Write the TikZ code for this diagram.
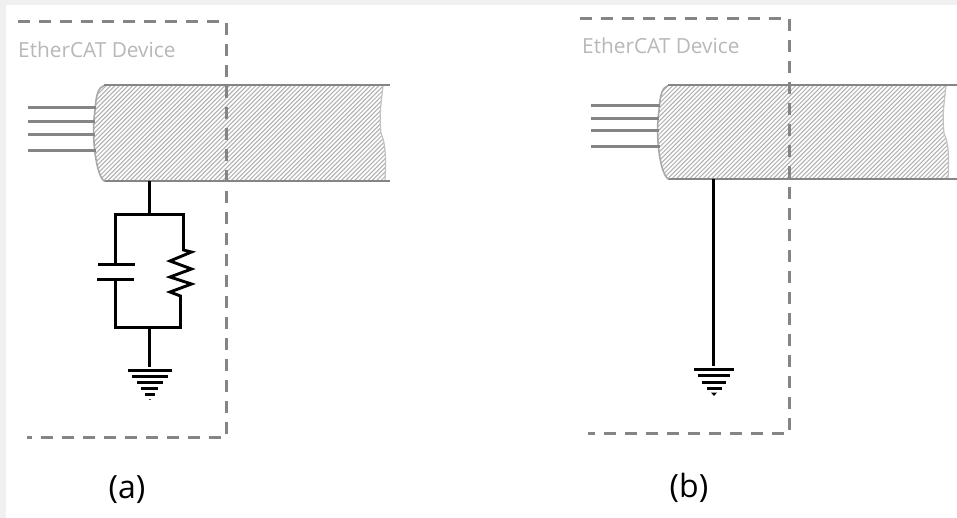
\documentclass[tikz,border=0pt]{standalone}
\usepackage{fontspec}
\setmainfont{Open Sans}
\definecolor{linegray}{HTML}{858585}
\definecolor{hatchgray}{HTML}{B0B0B0}
\definecolor{labelgray}{HTML}{B8B8B8}
\definecolor{edgegray}{HTML}{F0F0F0}
\definecolor{rimgray}{HTML}{A8A8A8}
\tikzset{
  wire/.style={draw=linegray,line width=2.6pt},
  boxdash/.style={draw=linegray,line width=2.8pt,dash pattern=on 12pt off 9pt},
  circuit/.style={draw=black,line width=2.9pt,line join=miter},
  hatchline/.style={draw=hatchgray,line width=1pt},
  devlabel/.style={text=labelgray,font=\fontsize{20.8}{24}\selectfont,anchor=base west,inner sep=0pt},
  caption/.style={text=black,font=\fontsize{32}{36}\selectfont,anchor=base,inner sep=0pt},
  surface/.style={draw=linegray,line width=2pt},
  rim/.style={draw=rimgray,line width=1.6pt}
}
\newcommand{\cable}[5]{%
  % #1 left x, #2 top y, #3 bottom y, #4 right x, #5 line end x
  \begin{scope}
    \clip (#1+10,#2) -- (#4,#2) .. controls (#4-2,#2+20) and (#4-4,#2+28) .. (#4-2,#2+48)
      .. controls (#4+3,#2+58) and (#4+3,#3-20) .. (#4+2,#3)
      -- (#1+11,#3) .. controls (#1+2,#3-4) and (#1-3,#2+50) .. (#1+1,#2+25)
      .. controls (#1+2,#2+10) and (#1+4,#2+2) .. (#1+10,#2) -- cycle;
    \foreach \k in {0,...,100} {
      \draw[hatchline] (#1-110+\k*4.4,#3) -- ++(100,-100);
    }
  \end{scope}
  \draw[rim] (#1+10,#2) .. controls (#1+4,#2+2) and (#1+2,#2+10) .. (#1+1,#2+25)
      .. controls (#1-3,#2+50) and (#1+2,#3-4) .. (#1+11,#3);
  \draw[rim,line width=1.2pt,draw=rimgray!70] (#4,#2) .. controls (#4-2,#2+20) and (#4-4,#2+28) .. (#4-2,#2+48)
      .. controls (#4+3,#2+58) and (#4+3,#3-20) .. (#4+2,#3);
  \draw[surface] (#1+10,#2) -- (#5,#2);
  \draw[surface] (#1+11,#3) -- (#5,#3);
}
\begin{document}
\begin{tikzpicture}[x=1pt,y=-1pt]
\useasboundingbox (0,0) rectangle (957,518);
\fill[edgegray] (0,0) rectangle (957,518);
\fill[white] (6,5) rectangle (957,518);

% --- (a) ---
\cable{94}{85.5}{181.5}{383}{390}
\coordinate (a1l) at (28,107.5);  \coordinate (a1r) at (96,107.5);
\coordinate (a2l) at (28,121.5);  \coordinate (a2r) at (95,121.5);
\coordinate (a3l) at (28,134.5);  \coordinate (a3r) at (95,134.5);
\coordinate (a4l) at (28,150.5);  \coordinate (a4r) at (96,150.5);
\draw[wire] (a1l) -- (a1r);
\draw[wire] (a2l) -- (a2r);
\draw[wire] (a3l) -- (a3r);
\draw[wire] (a4l) -- (a4r);
\coordinate (aTL) at (18,21.5);
\coordinate (aTR) at (226.5,21.5);
\coordinate (aBR) at (226.5,437.5);
\coordinate (aBL) at (27,437.5);
\draw[boxdash] (aTL) -- (aTR) -- (aBR) -- (aBL);
\node[devlabel] (alabel) at (18,58) {EtherCAT Device};

\coordinate (aS0) at (149.5,181);
\coordinate (aS1) at (149.5,214.5);
\coordinate (aTopL) at (115.5,214.5);
\coordinate (aTopR) at (183.5,214.5);
\coordinate (aCap1) at (115.5,264.5);
\coordinate (aCap2) at (115.5,279.5);
\coordinate (aBotL) at (115.5,327.5);
\coordinate (aBotR) at (180.5,327.5);
\coordinate (aS2) at (149.5,327.5);
\coordinate (aS3) at (149.5,367);
\draw[circuit] (aS0) -- (aS1);
\draw[circuit] (aCap1) -- (aTopL) -- (aTopR) -- (183.5,250)
  -- (191.5,252) -- (170,261) -- (191.5,269) -- (170,277) -- (191.5,284) -- (170,292) -- (180.5,296)
  -- (aBotR) -- (aBotL) -- (aCap2);
\draw[circuit] (98,264.5) -- (135,264.5);
\draw[circuit] (97,279.5) -- (134,279.5);
\draw[circuit] (aS2) -- (aS3);
\foreach \y/\a/\b in {370.5/128/172,376.5/132/168,382.5/137/163,388.5/141/158,394.5/145/155}
  \draw[circuit] (\a,\y) -- (\b,\y);
\fill[black!70] (149,398.5) rectangle (151,400);

\node[caption] (acap) at (127,498) {(a)};

% --- (b) ---
\cable{658}{85.5}{179.5}{946}{957}
\coordinate (b1l) at (591,105.5); \coordinate (b1r) at (660,105.5);
\coordinate (b2l) at (591,118.5); \coordinate (b2r) at (659,118.5);
\coordinate (b3l) at (591,130.5); \coordinate (b3r) at (659,130.5);
\coordinate (b4l) at (591,146.5); \coordinate (b4r) at (660,146.5);
\draw[wire] (b1l) -- (b1r);
\draw[wire] (b2l) -- (b2r);
\draw[wire] (b3l) -- (b3r);
\draw[wire] (b4l) -- (b4r);
\coordinate (bTL) at (580,18.5);
\coordinate (bTR) at (789.5,18.5);
\coordinate (bBR) at (789.5,433.5);
\coordinate (bBL) at (588,433.5);
\draw[boxdash] (bTL) -- (bTR) -- (bBR) -- (bBL);
\node[devlabel] (blabel) at (582,53.5) {EtherCAT Device};

\coordinate (bS0) at (713.5,179);
\coordinate (bS1) at (713.5,366);
\draw[circuit] (bS0) -- (bS1);
\foreach \y/\a/\b in {369.5/694/734,375.5/698/730,382.5/702/726,388.5/707/722}
  \draw[circuit] (\a,\y) -- (\b,\y);
\fill[black] (711,392.5) -- (717,392.5) -- (714,396) -- cycle;

\node[caption] (bcap) at (689,497) {(b)};
\end{tikzpicture}
\end{document}
